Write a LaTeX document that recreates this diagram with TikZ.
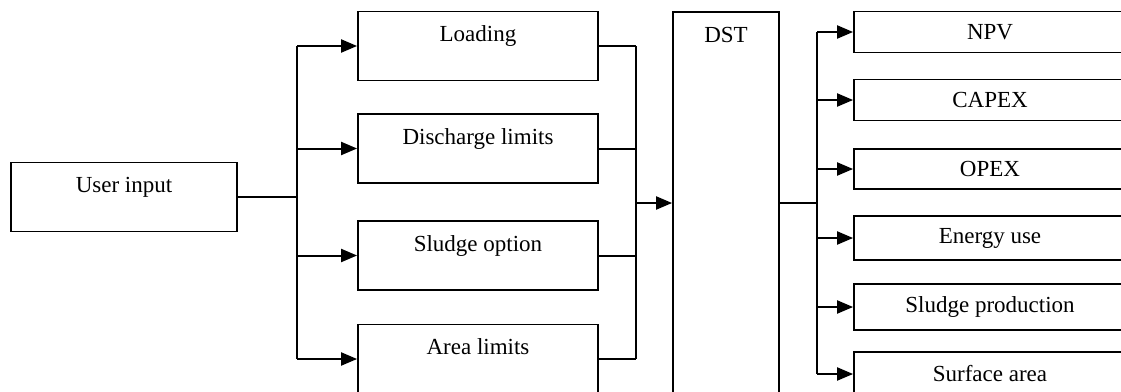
\documentclass[tikz,border=0pt]{standalone}
\usepackage{fontspec}
\setmainfont{Liberation Serif}
\usetikzlibrary{arrows.meta}
\tikzset{
  box/.style={draw,line width=1.8pt,inner sep=0pt,minimum width=240pt,text height=30pt,text depth=39pt},
  outbox/.style={draw,line width=1.8pt,inner sep=0pt,minimum width=272pt},
  link/.style={line width=2pt},
  arr/.style={line width=2pt,-{Triangle[length=16pt,width=13pt]}}
}
\begin{document}
\begin{tikzpicture}[x=1pt,y=-1pt,font=\fontsize{23}{27}\selectfont]
\clip (0,0) rectangle (1121,391);
\useasboundingbox (0,0) rectangle (1121,391);
\node[box,minimum width=226pt] (user) at (124,197) {User input};
\node[box] (load) at (478,46) {Loading};
\node[box] (dis) at (478,148.5) {Discharge limits};
\node[box] (sludge) at (478,255.5) {Sludge option};
\node[box] (area) at (478,359) {Area limits};
\node[box,minimum width=106pt,text depth=352pt] (dst) at (726,203) {DST};
\node[outbox,minimum height=41pt] (npv) at (990,32) {NPV};
\node[outbox,minimum height=41pt] (capex) at (990,100) {CAPEX};
\node[outbox,minimum height=40pt] (opex) at (990,169) {OPEX};
\node[outbox,minimum height=44pt] (energy) at (990,238) {Energy use};
\node[outbox,minimum height=46pt] (sprod) at (990,307) {Sludge production};
\node[outbox,minimum height=44pt] (surf) at (990,374) {Surface area};
\coordinate (s1) at (297,197);
\coordinate (s2) at (636,203);
\coordinate (s3) at (817,203);
\draw[link] (user) -- (s1);
\draw[link] (s1 |- load) -- (s1 |- area);
\draw[arr] (s1 |- load) -- (load);
\draw[arr] (s1 |- dis) -- (dis);
\draw[arr] (s1 |- sludge) -- (sludge);
\draw[arr] (s1 |- area) -- (area);
\draw[link] (load) -- (s2 |- load);
\draw[link] (dis) -- (s2 |- dis);
\draw[link] (sludge) -- (s2 |- sludge);
\draw[link] (area) -- (s2 |- area);
\draw[link] (s2 |- load) -- (s2 |- area);
\draw[arr] (s2) -- (dst);
\draw[link] (dst) -- (s3);
\draw[link] (s3 |- npv) -- (s3 |- surf);
\draw[arr] (s3 |- npv) -- (npv);
\draw[arr] (s3 |- capex) -- (capex);
\draw[arr] (s3 |- opex) -- (opex);
\draw[arr] (s3 |- energy) -- (energy);
\draw[arr] (s3 |- sprod) -- (sprod);
\draw[arr] (s3 |- surf) -- (surf);
\end{tikzpicture}
\end{document}
